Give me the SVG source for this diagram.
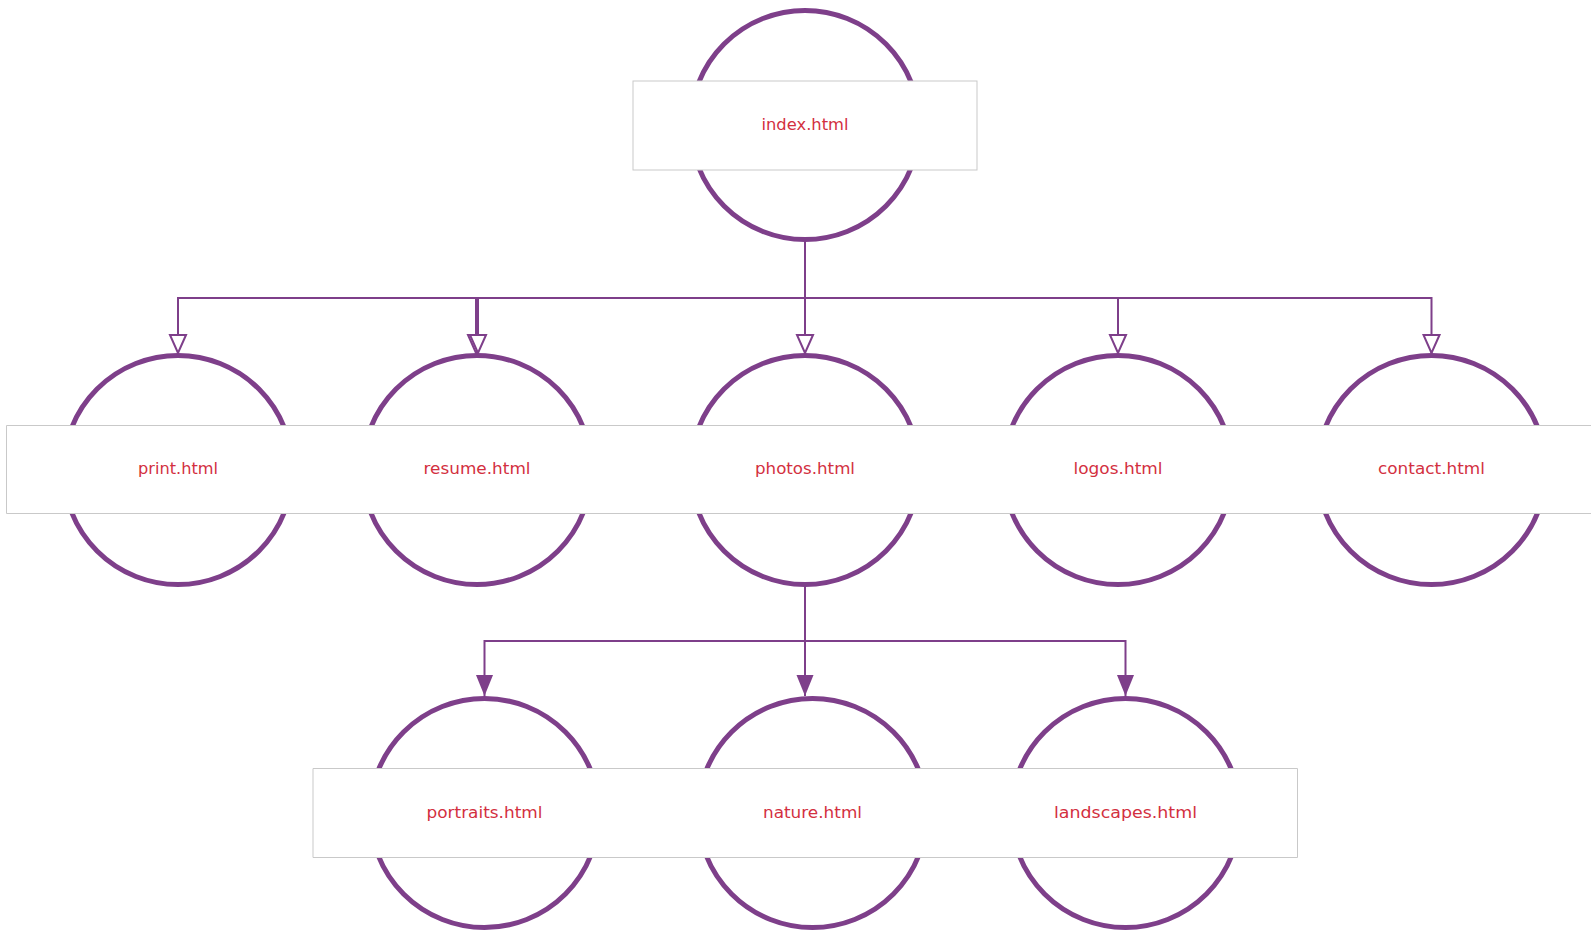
<svg xmlns="http://www.w3.org/2000/svg" width="1591" height="930" viewBox="0 0 1591 930">
<style>
  .ring{fill:#ffffff;stroke:#7e3f8a;stroke-width:5}
  .band{fill:#ffffff;stroke:none}
  .edge{fill:none;stroke:#c9c9c9;stroke-width:1}
  .lbl{font-family:"DejaVu Sans","Liberation Sans",sans-serif;font-size:15px;fill:#d3303f;text-anchor:middle}
  .link{fill:none;stroke:#7e3f8a;stroke-width:2}
</style>
<defs>
  <marker id="hollow" markerUnits="userSpaceOnUse" viewBox="-2 -2 22 20" markerWidth="22" markerHeight="20" refX="18" refY="8" orient="auto">
    <path d="M0,0 L18,8 L0,16 Z" fill="#ffffff" stroke="#7e3f8a" stroke-width="2"/>
  </marker>
  <marker id="solid" markerUnits="userSpaceOnUse" viewBox="0 0 22 18" markerWidth="22" markerHeight="18" refX="21" refY="9" orient="auto">
    <path d="M0,0.5 L21,9 L0,17.5 Z" fill="#7e3f8a"/>
  </marker>
</defs>
<rect width="1591" height="930" fill="#ffffff"/>

<g id="node-index">
  <circle class="ring" cx="805" cy="125" r="114.5"/>
  <rect class="band" x="633" y="81" width="344" height="89"/>
  <rect class="edge" x="633" y="81" width="344" height="89"/>
  <text class="lbl" x="805" y="130" textLength="87" lengthAdjust="spacingAndGlyphs">index.html</text>
</g>

<g id="node-print">
  <circle class="ring" cx="178" cy="470" r="114.5"/>
  <rect class="band" x="6" y="425" width="344" height="89"/>
  <path class="edge" d="M350,425.5 H6.5 V513.5 H350"/>
  <text class="lbl" x="178" y="474" textLength="80" lengthAdjust="spacingAndGlyphs">print.html</text>
</g>

<g id="node-resume">
  <circle class="ring" cx="477" cy="470" r="114.5"/>
  <rect class="band" x="305" y="426" width="344" height="87"/>
  <path class="edge" d="M305,425.5 H649 M305,513.5 H649"/>
  <text class="lbl" x="477" y="474" textLength="107" lengthAdjust="spacingAndGlyphs">resume.html</text>
</g>

<g id="node-photos">
  <circle class="ring" cx="805" cy="470" r="114.5"/>
  <rect class="band" x="633" y="426" width="344" height="87"/>
  <path class="edge" d="M633,425.5 H977 M633,513.5 H977"/>
  <text class="lbl" x="805" y="474" textLength="100" lengthAdjust="spacingAndGlyphs">photos.html</text>
</g>

<g id="node-logos">
  <circle class="ring" cx="1118" cy="470" r="114.5"/>
  <rect class="band" x="946" y="426" width="344" height="87"/>
  <path class="edge" d="M946,425.5 H1290 M946,513.5 H1290"/>
  <text class="lbl" x="1118" y="474" textLength="89" lengthAdjust="spacingAndGlyphs">logos.html</text>
</g>

<g id="node-contact">
  <circle class="ring" cx="1431.5" cy="470" r="114.5"/>
  <rect class="band" x="1259" y="426" width="344" height="87"/>
  <path class="edge" d="M1259,425.5 H1603 M1259,513.5 H1603"/>
  <text class="lbl" x="1431.5" y="474" textLength="107" lengthAdjust="spacingAndGlyphs">contact.html</text>
</g>

<g id="node-portraits">
  <circle class="ring" cx="484.5" cy="813" r="114.5"/>
  <rect class="band" x="312.5" y="768" width="344" height="90"/>
  <path class="edge" d="M656.5,768.5 H313 V857.5 H656.5"/>
  <text class="lbl" x="484.5" y="817.5" textLength="116" lengthAdjust="spacingAndGlyphs">portraits.html</text>
</g>

<g id="node-nature">
  <circle class="ring" cx="812.5" cy="813" r="114.5"/>
  <rect class="band" x="640.5" y="769" width="344" height="88"/>
  <path class="edge" d="M640.5,768.5 H984.5 M640.5,857.5 H984.5"/>
  <text class="lbl" x="812.5" y="817.5" textLength="99" lengthAdjust="spacingAndGlyphs">nature.html</text>
</g>

<g id="node-landscapes">
  <circle class="ring" cx="1125.5" cy="813" r="114.5"/>
  <rect class="band" x="954" y="768" width="344" height="90"/>
  <path class="edge" d="M954,768.5 H1297.5 V857.5 H954"/>
  <text class="lbl" x="1125.5" y="817.5" textLength="143" lengthAdjust="spacingAndGlyphs">landscapes.html</text>
</g>

<g id="connectors">
  <path class="link" d="M805,242 V298 H178 V353" marker-end="url(#hollow)"/>
  <path class="link" d="M805,242 V298 H476 V353" marker-end="url(#hollow)"/>
  <path class="link" d="M805,242 V298 H478 V353" marker-end="url(#hollow)"/>
  <path class="link" d="M805,242 V353" marker-end="url(#hollow)"/>
  <path class="link" d="M805,242 V298 H1118 V353" marker-end="url(#hollow)"/>
  <path class="link" d="M805,242 V298 H1431.5 V353" marker-end="url(#hollow)"/>
  <path class="link" d="M805,587 V641 H484.5 V696" marker-end="url(#solid)"/>
  <path class="link" d="M805,587 V696" marker-end="url(#solid)"/>
  <path class="link" d="M805,587 V641 H1125.5 V696" marker-end="url(#solid)"/>
</g>
</svg>
